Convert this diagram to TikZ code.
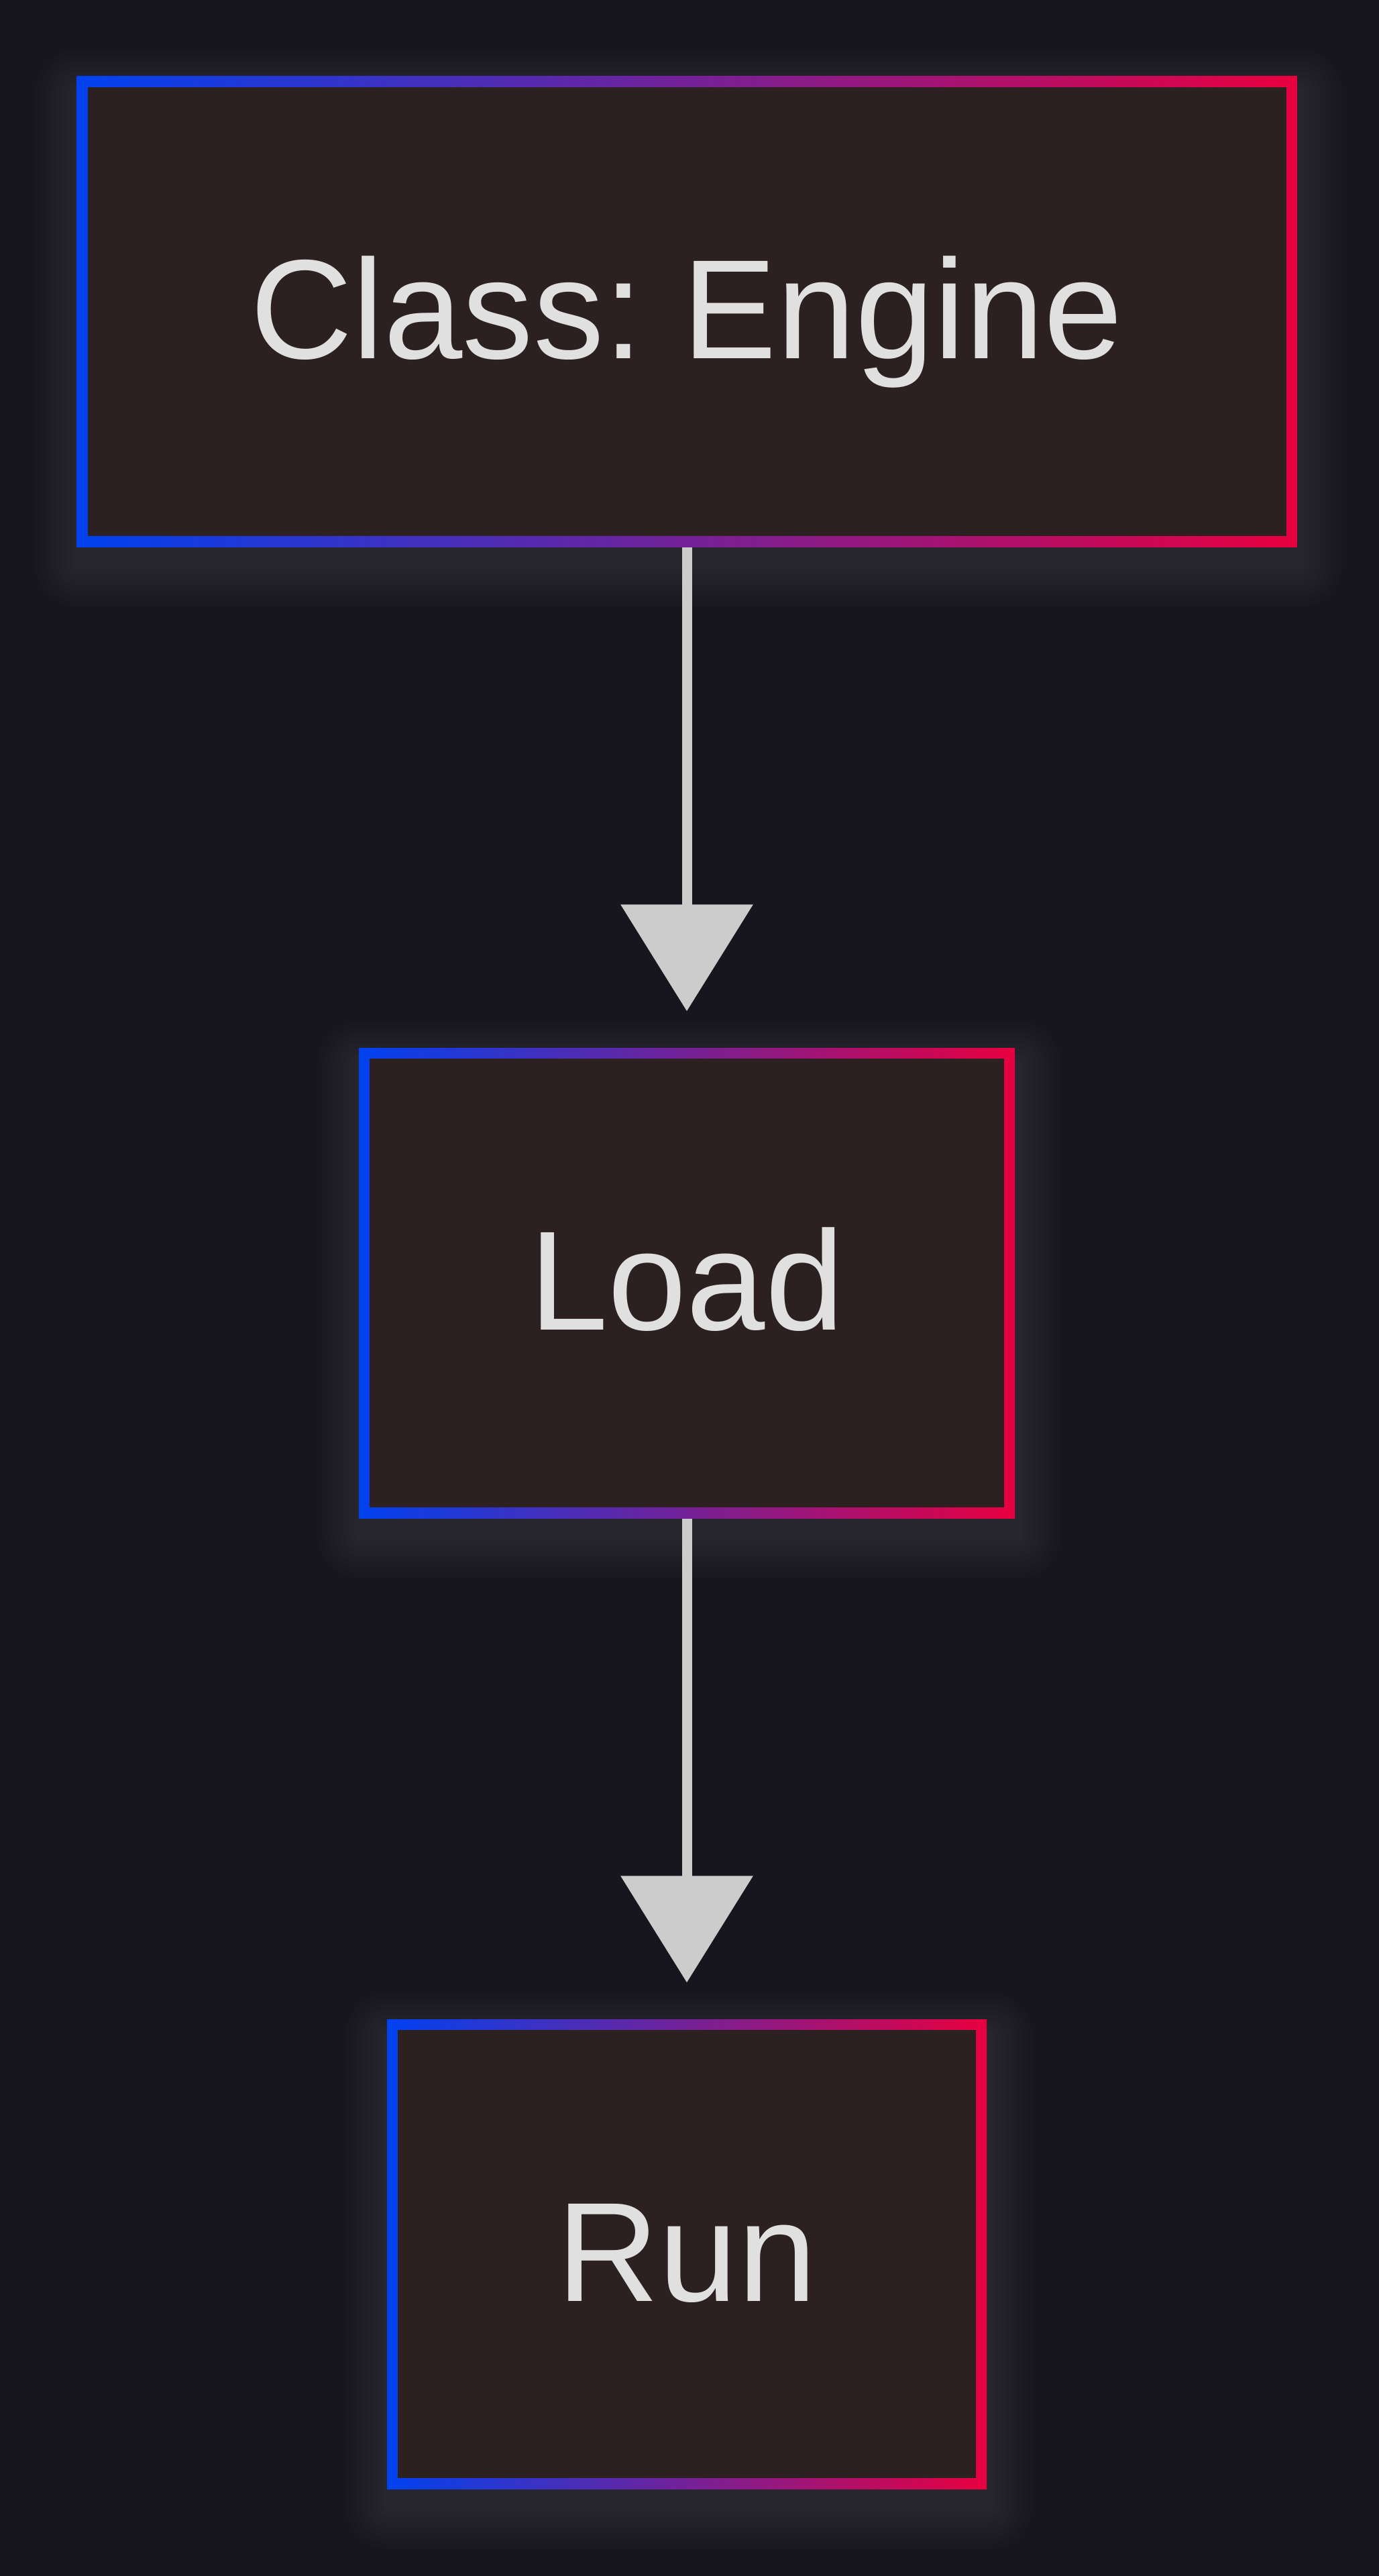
\documentclass[tikz,border=0pt]{standalone}
\usepackage{fontspec}
\setmainfont{Liberation Sans}
\usepackage{tikz}
\usetikzlibrary{arrows.meta,positioning,calc,backgrounds}
\frenchspacing

\definecolor{bgdark}{HTML}{17161F}
\definecolor{boxfill}{HTML}{2C2020}
\definecolor{edgeblue}{HTML}{0042F0}
\definecolor{edgered}{HTML}{E8003F}
\definecolor{arrowgray}{HTML}{CCCCCC}
\definecolor{textgray}{HTML}{E0E0E0}
\definecolor{glowgray}{HTML}{D0D0E8}

\tikzset{
    stagebox/.style={rectangle, inner sep=0pt, left color=edgeblue, right color=edgered,
        text=textgray, font=\fontsize{60}{72}\selectfont, text height=45pt, text depth=5pt,
        path picture={\fill[boxfill] ($(path picture bounding box.south west)+(0.16,0.16)$) rectangle ($(path picture bounding box.north east)-(0.16,0.16)$);}},
    flow/.style={draw=arrowgray, line width=0.15cm, -{Triangle[length=1.59cm, width=1.94cm]}, shorten >=0.54cm}
}

\begin{document}
\begin{tikzpicture}
        % Stages
        \node[stagebox, minimum width=18.19cm, minimum height=7.01cm] (engine) at (10.24,-4.645) {Class: Engine};
        \node[stagebox, minimum width=9.78cm, minimum height=7.01cm] (load) at (10.24,-19.125) {Load};
        \node[stagebox, minimum width=8.94cm, minimum height=7.00cm] (run) at (10.24,-33.60) {Run};

        % Connectors
        \draw[flow] (engine) -- (load);
        \draw[flow] (load) -- (run);

        % Background and glow
        \begin{scope}[on background layer]
            \fill[bgdark] (0,0) rectangle (20.56,-38.40);
            \useasboundingbox (0,0) rectangle (20.56,-38.40);
            \foreach \n in {engine,load,run}
                \foreach \r in {1,...,8}
                    \fill[glowgray, fill opacity=0.013, rounded corners=\r*0.08cm]
                        ($(\n.south west)+(-\r*0.08+0.03,-\r*0.08-0.25)$) rectangle ($(\n.north east)+(\r*0.08+0.03,\r*0.08-0.25)$);
        \end{scope}
\end{tikzpicture}
\end{document}
